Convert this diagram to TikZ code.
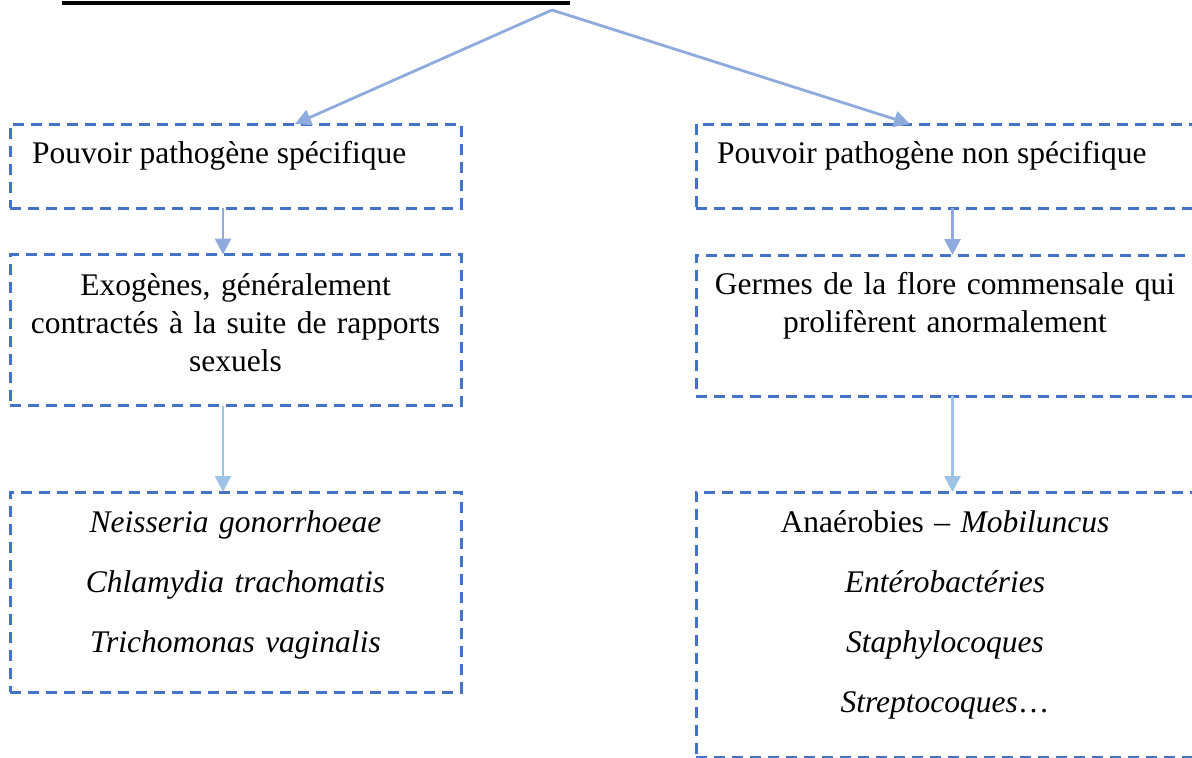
\documentclass[tikz,border=0pt]{standalone}
\usepackage{fontspec}
\setmainfont{Liberation Serif}
\usetikzlibrary{arrows.meta}

\definecolor{boxblue}{HTML}{4472C4}
\definecolor{linkblue}{HTML}{8FAADC}
\definecolor{linklight}{HTML}{9DC3E6}

\tikzset{
  dashbox/.style={draw=boxblue, line width=3pt, dash pattern=on 11pt off 7pt,
    rectangle, inner sep=0pt, outer sep=0pt},
  txt/.style={inner sep=0pt, outer sep=0pt, font=\fontsize{31.5}{38}\selectfont},
  listtxt/.style={txt, font=\fontsize{31.5}{60.3}\selectfont},
  link/.style={draw=linkblue, line width=2.8pt, -{Triangle[length=16pt,width=16pt]}},
  linklt/.style={draw=linklight, line width=2.8pt, -{Triangle[length=16pt,width=16pt]}},
}

\begin{document}
\begin{tikzpicture}[x=1pt, y=-1pt]
  \useasboundingbox (0,0) rectangle (1192,758);
  \clip (0,0) rectangle (1192,758);

  % underline of the heading above the tree
  \coordinate (ruleL) at (62,3);
  \coordinate (ruleR) at (570,3);
  \draw[line width=4pt] (ruleL) -- (ruleR);

  % branching point
  \coordinate (apex) at (552,10);

  % boxes
  \node[dashbox, minimum width=451pt, minimum height=84pt]  (spec)    at (235.5,166)  {};
  \node[dashbox, minimum width=498pt, minimum height=84pt]  (nonspec) at (945,166)    {};
  \node[dashbox, minimum width=451pt, minimum height=151pt] (exo)     at (235.5,330)  {};
  \node[dashbox, minimum width=498pt, minimum height=141pt] (flore)   at (945,325.5)  {};
  \node[dashbox, minimum width=451pt, minimum height=200pt] (germsL)  at (235.5,592)  {};
  \node[dashbox, minimum width=498pt, minimum height=265pt] (germsR)  at (945,624.5)  {};

  % texts
  \node[txt, anchor=base west] (specT) at (32,163) {Pouvoir pathogène spécifique};
  \node[txt, anchor=base west] (nonspecT) at (717,163) {Pouvoir pathogène non spécifique};
  \node[txt, anchor=base, text width=440pt, align=center] (exoT) at (235.5,295)
    {Exogènes, généralement\\contractés à la suite de rapports\\sexuels};
  \node[txt, anchor=base, text width=490pt, align=center] (floreT) at (945,294)
    {Germes de la flore commensale qui\\prolifèrent anormalement};
  \node[listtxt, anchor=base, text width=440pt, align=center] (germsLT) at (235.5,532)
    {\textit{Neisseria gonorrhoeae}\\\textit{Chlamydia trachomatis}\\\textit{Trichomonas vaginalis}};
  \node[listtxt, anchor=base, text width=490pt, align=center] (germsRT) at (945,532)
    {Anaérobies – \textit{Mobiluncus}\\\textit{Entérobactéries}\\\textit{Staphylocoques}\\\textit{Streptocoques}…};

  % connectors
  \draw[link] (apex) -- ([xshift=59.5pt]spec.north);
  \draw[link] (apex) -- ([xshift=-35pt]nonspec.north);
  \draw[link] ([xshift=-12.5pt]spec.south) -- ([xshift=-12.5pt]exo.north);
  \draw[link] ([xshift=7.5pt]nonspec.south) -- ([xshift=7.5pt]flore.north);
  \draw[linklt] ([xshift=-12.5pt]exo.south) -- ([xshift=-12.5pt]germsL.north);
  \draw[linklt] ([xshift=7.5pt]flore.south) -- ([xshift=7.5pt]germsR.north);
\end{tikzpicture}
\end{document}
